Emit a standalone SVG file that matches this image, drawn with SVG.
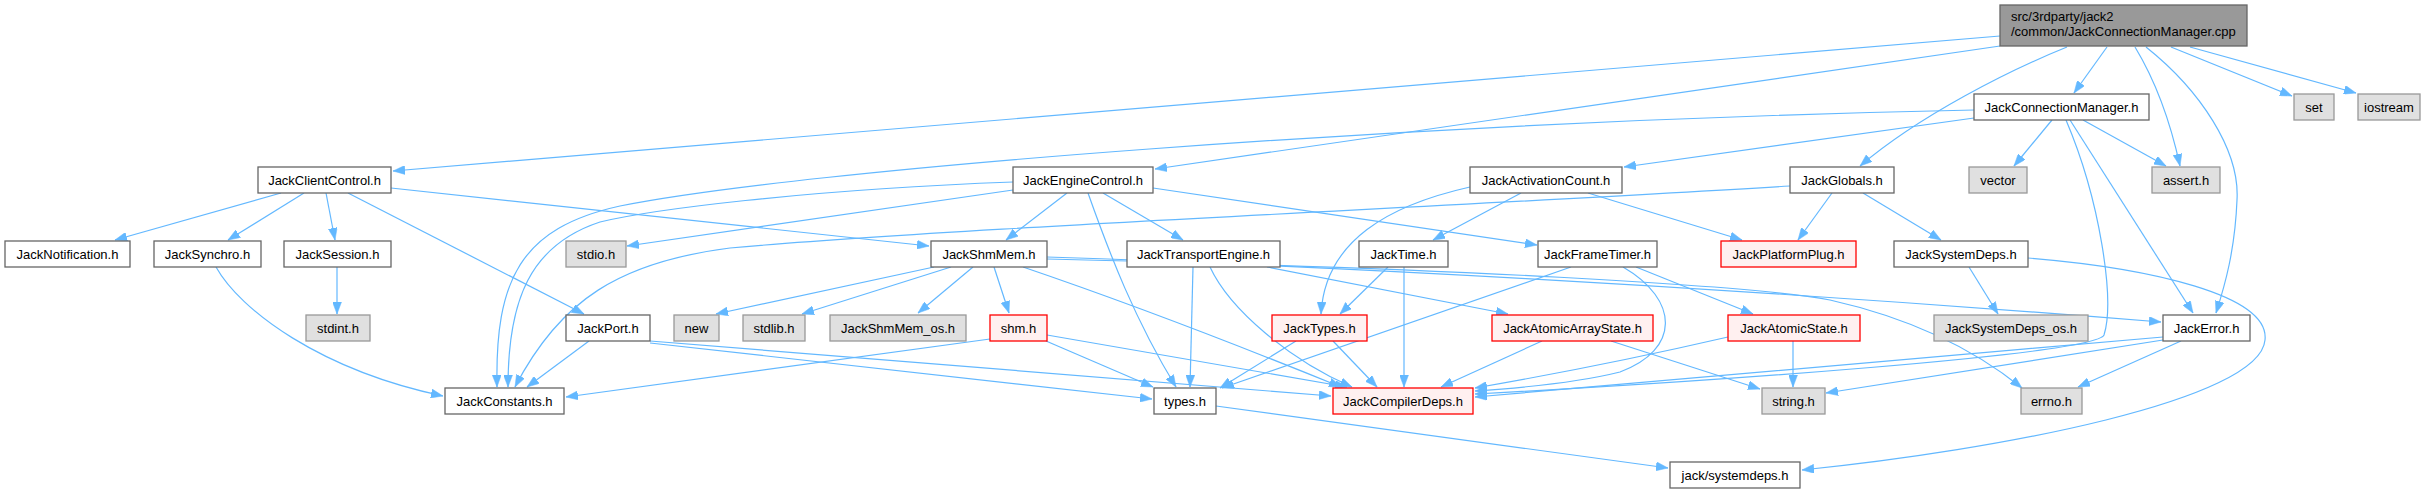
<svg xmlns="http://www.w3.org/2000/svg" width="2435" height="493" viewBox="0 0 2435 493">
<style>
rect{stroke-width:1.3}
.w{fill:#ffffff;stroke:#666666}
.g{fill:#e0e0e0;stroke:#999999}
.r{fill:#fff0f0;stroke:#ff0000}
.root{fill:#999999;stroke:#666666}
text{font-family:"Liberation Sans",Arial,sans-serif;font-size:13px;fill:#000000;text-anchor:middle}
.l{text-anchor:start}
#edges path{fill:none;stroke:#63b8ff;stroke-width:1.2;marker-end:url(#ah)}
</style>
<defs>
<marker id="ah" viewBox="0 0 12 9" markerWidth="12" markerHeight="9" refX="12" refY="4.5" orient="auto" markerUnits="userSpaceOnUse">
<path d="M0,0 L12,4.5 L0,9 z" fill="#63b8ff" stroke="#63b8ff" stroke-width="0.5"/>
</marker>
</defs>
<rect width="2435" height="493" fill="#ffffff"/>
<g id="edges">
<path d="M2000,36 L393,171"/>
<path d="M2000,46 L1155,169"/>
<path d="M2107,47 L2074,93"/>
<path d="M2067,47 C2010,70 1920,115 1860,166"/>
<path d="M2135,47 C2155,80 2170,120 2180,166"/>
<path d="M2146,47 C2200,90 2240,150 2237,200 C2235,250 2225,285 2216,313"/>
<path d="M2171,47 L2292,96"/>
<path d="M2190,47 L2356,93"/>
<path d="M1974,110 C1400,122 800,170 620,206 C520,228 495,280 497,387"/>
<path d="M1974,118 L1624,167"/>
<path d="M2052,120 L2014,166"/>
<path d="M2083,120 L2166,166"/>
<path d="M2070,120 L2193,313"/>
<path d="M2066,120 C2100,200 2115,300 2104,335 C2095,355 1700,382 1475,394"/>
<path d="M2163,337 C1900,360 1600,385 1475,397"/>
<path d="M2163,340 L1826,393"/>
<path d="M2181,341 L2078,387"/>
<path d="M281,193 L115,240"/>
<path d="M304,193 L228,240"/>
<path d="M326,193 L335,240"/>
<path d="M348,193 L584,314"/>
<path d="M391,188 L929,246"/>
<path d="M1013,182 C800,190 650,210 600,222 C530,245 508,300 508,387"/>
<path d="M1013,190 L627,246"/>
<path d="M1067,193 L1006,240"/>
<path d="M1103,193 L1183,240"/>
<path d="M1153,188 L1537,245"/>
<path d="M1088,193 C1110,255 1135,320 1176,387"/>
<path d="M1470,187 C1390,205 1325,240 1321,314"/>
<path d="M1521,193 L1433,240"/>
<path d="M1588,193 L1742,240"/>
<path d="M1832,193 L1798,240"/>
<path d="M1863,193 L1941,240"/>
<path d="M1790,186 C1450,207 950,228 730,248 C620,262 560,300 515,387"/>
<path d="M216,267 C240,310 320,370 443,396"/>
<path d="M337,267 L337,314"/>
<path d="M589,341 L527,387"/>
<path d="M650,343 L1152,399"/>
<path d="M650,341 L1331,396"/>
<path d="M934,267 L716,314"/>
<path d="M951,267 L802,314"/>
<path d="M973,267 L918,313"/>
<path d="M994,267 L1009,313"/>
<path d="M1023,267 C1120,300 1250,350 1341,387"/>
<path d="M1047,257 C1300,265 1700,285 2161,322"/>
<path d="M1047,259 C1450,268 1750,285 1830,300 C1910,318 1975,350 2022,388"/>
<path d="M990,339 L566,397"/>
<path d="M1046,341 L1153,387"/>
<path d="M1047,335 L1347,387"/>
<path d="M1193,267 L1190,387"/>
<path d="M1210,267 C1230,310 1290,360 1352,387"/>
<path d="M1267,267 L1508,314"/>
<path d="M1388,267 L1340,314"/>
<path d="M1404,267 L1404,387"/>
<path d="M1571,267 L1222,388"/>
<path d="M1636,267 L1753,314"/>
<path d="M1623,267 C1680,300 1680,350 1620,372 C1580,382 1520,388 1475,391"/>
<path d="M1969,267 L1998,314"/>
<path d="M2028,258 C2150,268 2270,295 2265,340 C2260,400 2000,450 1802,470"/>
<path d="M1296,341 L1220,388"/>
<path d="M1333,341 L1377,387"/>
<path d="M1542,341 L1441,387"/>
<path d="M1611,341 L1760,389"/>
<path d="M1728,337 C1650,355 1550,375 1475,388"/>
<path d="M1793,341 L1793,387"/>
<path d="M1216,406 L1668,468"/>
</g>
<g id="n_root"><rect class="root" x="2000" y="5" width="247" height="41"/><text class="l" x="2011" y="21">src/3rdparty/jack2</text><text class="l" x="2011" y="36">/common/JackConnectionManager.cpp</text></g>
<g id="n_jcm"><rect class="w" x="1974" y="94" width="175" height="26"/><text x="2061.5" y="111.5">JackConnectionManager.h</text></g>
<g id="n_set"><rect class="g" x="2294" y="94" width="40" height="26"/><text x="2314" y="111.5">set</text></g>
<g id="n_iostream"><rect class="g" x="2358" y="94" width="62" height="26"/><text x="2389" y="111.5">iostream</text></g>
<g id="n_jcc"><rect class="w" x="258" y="167" width="133" height="26"/><text x="324.5" y="184.5">JackClientControl.h</text></g>
<g id="n_jec"><rect class="w" x="1013" y="167" width="140" height="26"/><text x="1083" y="184.5">JackEngineControl.h</text></g>
<g id="n_jac"><rect class="w" x="1470" y="167" width="152" height="26"/><text x="1546" y="184.5">JackActivationCount.h</text></g>
<g id="n_jglob"><rect class="w" x="1790" y="167" width="104" height="26"/><text x="1842" y="184.5">JackGlobals.h</text></g>
<g id="n_vector"><rect class="g" x="1969" y="167" width="58" height="26"/><text x="1998" y="184.5">vector</text></g>
<g id="n_assert"><rect class="g" x="2152" y="167" width="68" height="26"/><text x="2186" y="184.5">assert.h</text></g>
<g id="n_jnotif"><rect class="w" x="5" y="241" width="125" height="26"/><text x="67.5" y="258.5">JackNotification.h</text></g>
<g id="n_jsync"><rect class="w" x="154" y="241" width="107" height="26"/><text x="207.5" y="258.5">JackSynchro.h</text></g>
<g id="n_jsess"><rect class="w" x="284" y="241" width="107" height="26"/><text x="337.5" y="258.5">JackSession.h</text></g>
<g id="n_stdio"><rect class="g" x="566" y="241" width="60" height="26"/><text x="596" y="258.5">stdio.h</text></g>
<g id="n_jshm"><rect class="w" x="931" y="241" width="116" height="26"/><text x="989" y="258.5">JackShmMem.h</text></g>
<g id="n_jte"><rect class="w" x="1127" y="241" width="153" height="26"/><text x="1203.5" y="258.5">JackTransportEngine.h</text></g>
<g id="n_jtime"><rect class="w" x="1359" y="241" width="89" height="26"/><text x="1403.5" y="258.5">JackTime.h</text></g>
<g id="n_jft"><rect class="w" x="1538" y="241" width="119" height="26"/><text x="1597.5" y="258.5">JackFrameTimer.h</text></g>
<g id="n_jpp"><rect class="r" x="1721" y="241" width="135" height="26"/><text x="1788.5" y="258.5">JackPlatformPlug.h</text></g>
<g id="n_jsd"><rect class="w" x="1894" y="241" width="134" height="26"/><text x="1961" y="258.5">JackSystemDeps.h</text></g>
<g id="n_stdint"><rect class="g" x="306" y="315" width="64" height="26"/><text x="338" y="332.5">stdint.h</text></g>
<g id="n_jport"><rect class="w" x="566" y="315" width="84" height="26"/><text x="608" y="332.5">JackPort.h</text></g>
<g id="n_new"><rect class="g" x="674" y="315" width="45" height="26"/><text x="696.5" y="332.5">new</text></g>
<g id="n_stdlib"><rect class="g" x="743" y="315" width="62" height="26"/><text x="774" y="332.5">stdlib.h</text></g>
<g id="n_jshmos"><rect class="g" x="830" y="315" width="136" height="26"/><text x="898" y="332.5">JackShmMem_os.h</text></g>
<g id="n_shm"><rect class="r" x="990" y="315" width="57" height="26"/><text x="1018.5" y="332.5">shm.h</text></g>
<g id="n_jtypes"><rect class="r" x="1272" y="315" width="95" height="26"/><text x="1319.5" y="332.5">JackTypes.h</text></g>
<g id="n_jaas"><rect class="r" x="1492" y="315" width="161" height="26"/><text x="1572.5" y="332.5">JackAtomicArrayState.h</text></g>
<g id="n_jas"><rect class="r" x="1728" y="315" width="132" height="26"/><text x="1794" y="332.5">JackAtomicState.h</text></g>
<g id="n_jsdos"><rect class="g" x="1934" y="315" width="154" height="26"/><text x="2011" y="332.5">JackSystemDeps_os.h</text></g>
<g id="n_jerr"><rect class="w" x="2163" y="315" width="87" height="26"/><text x="2206.5" y="332.5">JackError.h</text></g>
<g id="n_jconst"><rect class="w" x="445" y="388" width="119" height="26"/><text x="504.5" y="405.5">JackConstants.h</text></g>
<g id="n_types"><rect class="w" x="1154" y="388" width="62" height="26"/><text x="1185" y="405.5">types.h</text></g>
<g id="n_jcd"><rect class="r" x="1333" y="388" width="140" height="26"/><text x="1403" y="405.5">JackCompilerDeps.h</text></g>
<g id="n_string"><rect class="g" x="1762" y="388" width="63" height="26"/><text x="1793.5" y="405.5">string.h</text></g>
<g id="n_errno"><rect class="g" x="2021" y="388" width="61" height="26"/><text x="2051.5" y="405.5">errno.h</text></g>
<g id="n_jsysdeps"><rect class="w" x="1670" y="462" width="130" height="26"/><text x="1735" y="479.5">jack/systemdeps.h</text></g>
</svg>
